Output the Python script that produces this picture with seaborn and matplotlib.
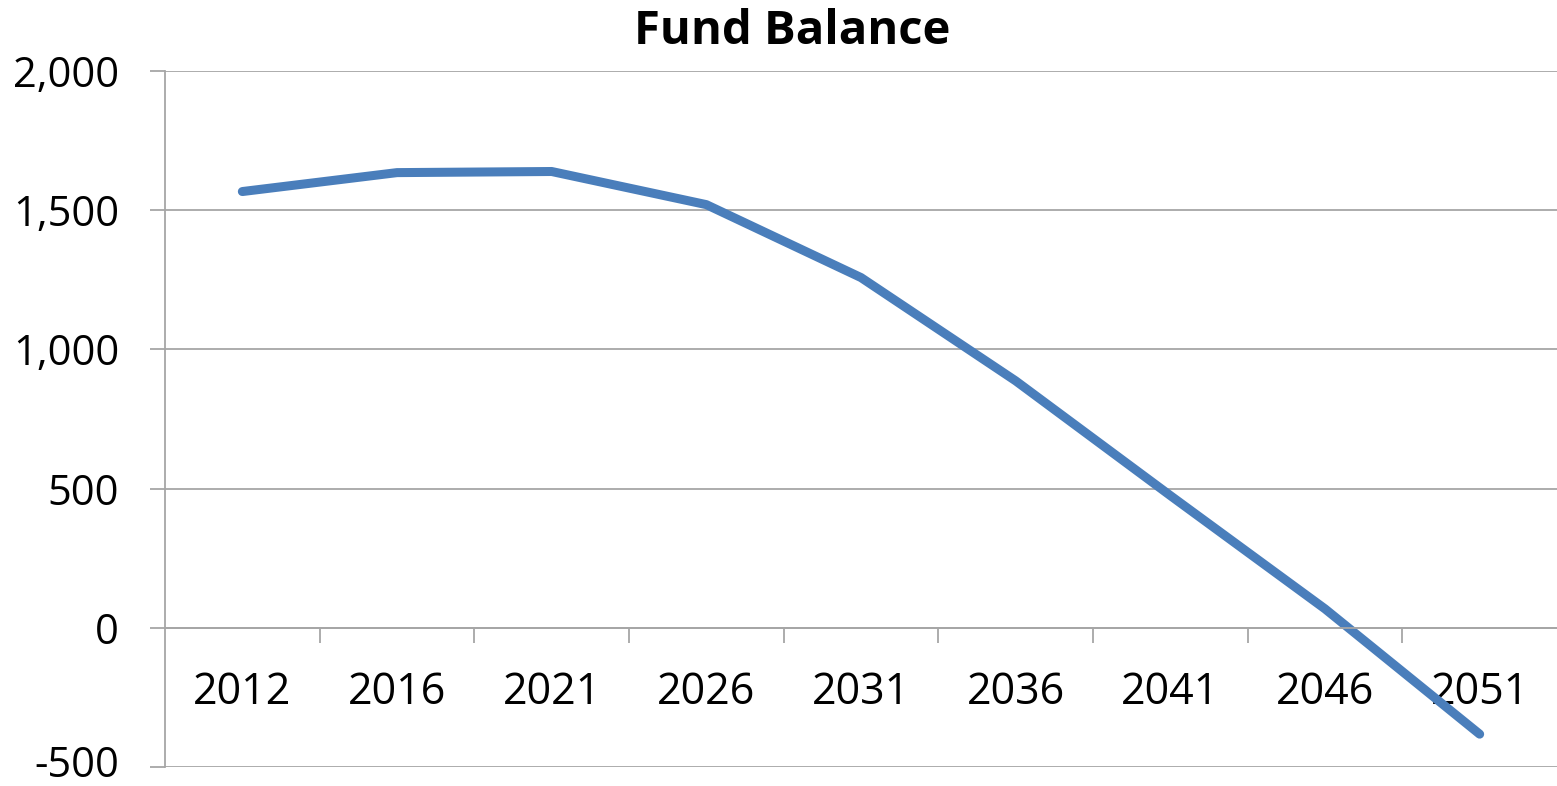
import matplotlib
matplotlib.use("Agg")
import matplotlib.pyplot as plt
import matplotlib.ticker as mticker
import matplotlib.transforms as mtransforms
import seaborn as sns
import pandas as pd

years = ["2012", "2016", "2021", "2026", "2031", "2036", "2041", "2046", "2051"]
balance = [1567, 1635, 1639, 1520, 1258, 887, 475, 68, -382]
y_ticks = [-500, 0, 500, 1000, 1500, 2000]

df = pd.DataFrame({"year": years, "balance": balance})

sns.set_theme(style="white")
plt.rcParams["font.family"] = ["Open Sans", "DejaVu Sans"]
plt.rcParams["text.color"] = "black"

fig = plt.figure(figsize=(15.57, 7.86), dpi=100)
ax = fig.add_axes([165 / 1557, 1 - 767 / 786, 1 - 165 / 1557, (767 - 71) / 786])

sns.lineplot(data=df, x="year", y="balance", ax=ax, color="#4a7ebb",
             linewidth=6.5, sort=False, solid_capstyle="round", solid_joinstyle="round")

grid_color = "#a6a6a6"
ax.set_ylim(-500, 2000)
ax.set_xlim(-0.5, len(years) - 0.5)
ax.set_yticks(y_ticks)
ax.yaxis.set_major_formatter(mticker.FuncFormatter(lambda v, p: f"{int(v):,}"))
ax.yaxis.grid(True, color=grid_color, linewidth=1.3)
ax.xaxis.grid(False)
ax.set_axisbelow(True)

for side in ("top", "right"):
    ax.spines[side].set_visible(False)
ax.spines["left"].set_color(grid_color)
ax.spines["left"].set_linewidth(1.3)
ax.spines["bottom"].set_position(("data", 0))
ax.spines["bottom"].set_color(grid_color)
ax.spines["bottom"].set_linewidth(1.3)

# category boundaries as tick marks, year labels at band centres
ax.set_xticks([i + 0.5 for i in range(len(years) - 1)])
ax.set_xticklabels([])
ax.set_xticks(range(len(years)), minor=True)
ax.set_xticklabels(years, minor=True)
ax.tick_params(axis="x", which="major", direction="out", length=11,
               width=1.3, color=grid_color, bottom=True)
ax.tick_params(axis="x", which="minor", length=0, pad=31, labelsize=31,
               labelcolor="black")
ax.tick_params(axis="y", direction="out", length=11, width=1.3,
               color=grid_color, left=True, pad=22, labelsize=30,
               labelcolor="black")

# keep the lowest value label inside the figure edge
lowest = ax.get_yticklabels()[0]
lowest.set_transform(lowest.get_transform()
                     + mtransforms.ScaledTranslation(0, 6 / 100, fig.dpi_scale_trans))

ax.set_xlabel("")
ax.set_ylabel("")

fig.text(792 / 1557, 1 - 31 / 786, "Fund Balance", ha="center", va="center",
         fontsize=34, fontweight="bold", color="black")

fig.savefig("out.png", dpi=100)
